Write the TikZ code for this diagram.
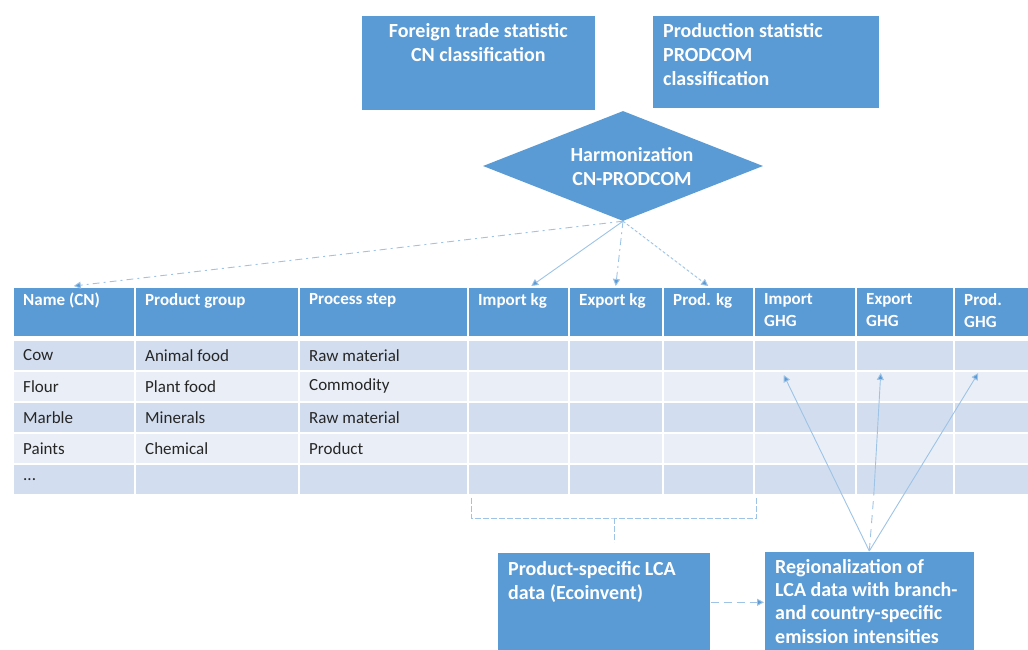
\documentclass[tikz,border=0pt]{standalone}
\usepackage{fontspec}
\setmainfont{Carlito}
\usetikzlibrary{shapes.geometric,arrows.meta,positioning}
\definecolor{boxblue}{HTML}{5B9BD5}
\definecolor{rowdark}{HTML}{D2DEEF}
\definecolor{rowlight}{HTML}{EAEFF7}
\definecolor{linkblue}{HTML}{9DC3E6}
\definecolor{celltext}{HTML}{262626}

\begin{document}
\begin{tikzpicture}[x=1pt, y=-1pt,
    bluebox/.style={fill=boxblue, draw=white, line width=0.6pt, anchor=north west, inner sep=0pt},
    boxtext/.style={text=white, inner sep=0pt, font=\fontsize{20}{24}\selectfont\bfseries},
    headcell/.style={fill=boxblue, draw=white, line width=1.5pt, anchor=north west, inner sep=0pt, minimum height=50},
    headtext/.style={anchor=north west, inner sep=0pt, xshift=11pt, yshift=-7pt, align=left, text=white, font=\fontsize{17}{22}\selectfont\bfseries},
    bodycell/.style={draw=white, line width=1.5pt, anchor=north west, inner sep=0pt, minimum height=31},
    bodytext/.style={anchor=west, inner sep=0pt, xshift=11pt, text=celltext, font=\fontsize{17}{20}\selectfont},
    link/.style={draw=linkblue, line width=0.9pt, -{Triangle[length=7pt,width=7pt,fill=boxblue]}},
    bracket/.style={draw=linkblue, line width=0.9pt, dash pattern=on 6pt off 2pt}]
    \useasboundingbox (0,0) rectangle (1028,650);

    % Statistics sources
    \node[bluebox, minimum width=234, minimum height=95] (trade) at (361,15) {};
    \node[boxtext, anchor=north, align=center, yshift=-8pt] at (trade.north)
        {Foreign trade statistic\\CN classification};
    \node[bluebox, minimum width=227, minimum height=93] (prodstat) at (652,15) {};
    \node[boxtext, anchor=north west, align=left, xshift=11pt, yshift=-8pt] at (prodstat.north west)
        {Production statistic\\PRODCOM\\classification};

    % Harmonization
    \node[diamond, fill=boxblue, inner sep=0pt, minimum width=280, minimum height=110] (harm) at (623,166) {};
    \node[boxtext, align=center, xshift=9pt, yshift=-1pt] at (harm.center) {Harmonization\\CN-PRODCOM};

    % Table header
    \foreach \xa/\xb/\n/\t in {12/134/1/{Name (CN)}, 134/298/2/{Product group}, 298/467/3/{Process step},
        467/568/4/{Import kg}, 568/662/5/{Export kg}, 662/753/6/{Prod. kg},
        753/855/7/{Import\\GHG}, 855/953/8/{Export\\GHG}, 953/1028/9/{Prod.\\GHG}} {
        \node[headcell, minimum width=\xb-\xa] (h\n) at (\xa,286) {};
        \node[headtext] at (h\n.north west) {\t};
    }

    % Table body
    \foreach \r/\rowc in {1/rowdark, 2/rowlight, 3/rowdark, 4/rowlight, 5/rowdark} {
        \foreach \xa/\xb/\n in {12/134/1, 134/298/2, 298/467/3, 467/568/4, 568/662/5,
            662/753/6, 753/855/7, 855/953/8, 953/1028/9} {
            \node[bodycell, fill=\rowc, minimum width=\xb-\xa] (c\r-\n) at (\xa,{339+31*(\r-1)}) {};
        }
    }
    \foreach \r/\na/\gr/\st in {1/Cow/Animal food/Raw material, 2/Flour/Plant food/Commodity,
        3/Marble/Minerals/Raw material, 4/Paints/Chemical/Product, 5/{...}/{}/{}} {
        \node[bodytext] at (c\r-1.west) {\na};
        \node[bodytext] at (c\r-2.west) {\gr};
        \node[bodytext] at (c\r-3.west) {\st};
    }

    % LCA boxes
    \node[bluebox, minimum width=213, minimum height=100] (lca) at (497,552) {};
    \node[boxtext, anchor=north west, align=left, xshift=11pt, yshift=-9pt] at (lca.north west)
        {Product-specific LCA\\data (Ecoinvent)};
    \node[bluebox, minimum width=210, minimum height=101] (reg) at (764,551) {};
    \node[boxtext, anchor=north west, align=left, xshift=11pt, yshift=-8pt,
        font=\fontsize{20}{23.3}\selectfont\bfseries] at (reg.north west)
        {Regionalization of\\LCA data with branch-\\and country-specific\\emission intensities};

    % Harmonization to table
    \draw[link, dash pattern=on 7pt off 4pt on 2pt off 4pt] (harm.south) -- (h1.north);
    \draw[link] (harm.south) -- ([xshift=13pt]h4.north);
    \draw[link, dash pattern=on 7pt off 4pt on 2pt off 4pt] (harm.south) -- (h5.north);
    \draw[link, dash pattern=on 3pt off 2pt] (harm.south) -- (h6.north);

    % Bracket under kg columns
    \coordinate (brk) at (614,518);
    \coordinate (brktip) at ([yshift=10pt]lca.north);
    \draw[bracket] ([xshift=4pt,yshift=-2pt]c5-4.south west) |- (brk)
        -| ([xshift=2pt,yshift=-2pt]c5-6.south east);
    \draw[bracket] (brk) -- (brk |- brktip);

    % Regionalization to GHG columns
    \coordinate (tipI) at ([xshift=-21pt,yshift=-5pt]c2-7.north);
    \coordinate (tipE) at ([xshift=-24pt,yshift=-3pt]c2-8.north);
    \coordinate (tipP) at ([xshift=-13pt,yshift=-3pt]c2-9.north);
    \coordinate (midbot) at ([xshift=-31pt]c5-8.south);
    \draw[link] (reg.north) -- (tipI);
    \draw[link] (reg.north) -- (tipP);
    \draw[draw=linkblue, line width=0.9pt, dash pattern=on 8pt off 6pt] (reg.north) -- (midbot);
    \draw[link] (midbot) -- (tipE);

    % LCA to regionalization
    \draw[link, dash pattern=on 8pt off 5pt] (lca.east) -- (lca.east -| reg.west);
\end{tikzpicture}
\end{document}
